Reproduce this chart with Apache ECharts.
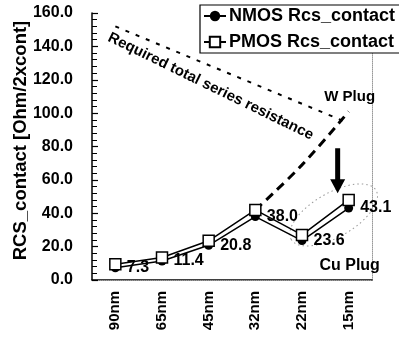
<!DOCTYPE html>
<html>
<head>
<meta charset="utf-8">
<script src="https://cdn.jsdelivr.net/npm/echarts@6/dist/echarts.min.js"></script>
<style>
html,body{margin:0;padding:0;background:#fff;}
#chart{width:399px;height:341px;}
</style>
</head>
<body>
<div id="chart"></div>
<script>
// ---- data ----
const categories = ['90nm', '65nm', '45nm', '32nm', '22nm', '15nm'];
const nmosValues = [7.3, 11.4, 20.8, 38.0, 23.6, 43.1];
const pmosValues = [9.5, 13.5, 23.5, 42.0, 27.0, 48.0];
const wPlugValues = [null, null, null, 42, 69, 101];
const requiredValues = [152, null, null, null, null, 94];
const yMin = 0, yMax = 160, yInterval = 20;

const FONT = '"Liberation Sans", Arial, sans-serif';
const chart = echarts.init(document.getElementById('chart'), null, {renderer: 'canvas'});

const option = {
  animation: false,
  backgroundColor: '#fff',
  grid: {left: 92, right: 27, top: 13, bottom: 61},
  legend: {
    orient: 'vertical',
    left: 200, top: 5,
    padding: [1, 12, 1, 3],
    itemGap: 6,
    itemWidth: 22, itemHeight: 13,
    backgroundColor: '#fff',
    borderColor: '#000', borderWidth: 1.2,
    z: 10,
    data: ['NMOS Rcs_contact', 'PMOS Rcs_contact'],
    textStyle: {fontFamily: FONT, fontWeight: 'bold', fontSize: 18, color: '#000', lineHeight: 20, padding: [0,0,0,-2]}
  },
  xAxis: [{
    type: 'category', data: categories, boundaryGap: true,
    axisLine: {lineStyle: {color: '#000', width: 1.5}},
    axisTick: {inside: true, length: 6, lineStyle: {color: '#000', width: 1.2}},
    axisLabel: {rotate: 90, margin: 11, fontFamily: FONT, fontWeight: 'bold', fontSize: 15, color: '#000'}
  }, {
    type: 'category', data: categories, position: 'top',
    axisLine: {lineStyle: {color: '#999', width: 1, type: 'dotted'}},
    axisTick: {show: false}, axisLabel: {show: false}
  }],
  yAxis: [{
    type: 'value', min: yMin, max: yMax, interval: yInterval,
    axisLine: {show: true, lineStyle: {color: '#000', width: 1.5}},
    axisTick: {show: true, inside: true, length: 6, lineStyle: {color: '#000', width: 1.2}},
    minorTick: {show: true, splitNumber: 5, length: 5, lineStyle: {color: '#000', width: 1}},
    splitLine: {show: false},
    axisLabel: {margin: 19, fontFamily: FONT, fontWeight: 'bold', fontSize: 16, color: '#000',
      formatter: v => v.toFixed(1)}
  }, {
    type: 'value', min: yMin, max: yMax, interval: yInterval, position: 'right',
    axisLine: {show: true, lineStyle: {color: '#999', width: 1, type: 'dotted'}},
    axisTick: {show: false}, axisLabel: {show: false}, splitLine: {show: false}
  }],
  series: [
    {
      name: 'Required', type: 'line', data: requiredValues, connectNulls: true,
      symbol: 'none', lineStyle: {color: '#000', width: 2, type: [4, 7]}, z: 1, silent: true
    },
    {
      name: 'W Plug', type: 'line', data: wPlugValues, smooth: 0.4,
      symbol: 'none', lineStyle: {color: '#000', width: 3, type: [9, 6]}, z: 1, silent: true
    },
    {
      name: 'NMOS Rcs_contact', type: 'line', data: nmosValues,
      symbol: 'circle', symbolSize: 9,
      itemStyle: {color: '#000'},
      lineStyle: {color: '#000', width: 1.5},
      label: {show: true, position: 'right', distance: 7, fontFamily: FONT, fontWeight: 'bold', fontSize: 16, color: '#000',
        formatter: p => p.value.toFixed(1)},
      z: 3
    },
    {
      name: 'PMOS Rcs_contact', type: 'line', data: pmosValues,
      symbol: 'rect', symbolSize: 11,
      itemStyle: {color: '#fff', borderColor: '#000', borderWidth: 1.5},
      lineStyle: {color: '#000', width: 1.5},
      z: 4
    }
  ]
};
chart.setOption(option);

function px(cat, val) { return chart.convertToPixel({gridIndex: 0}, [cat, val]); }

const pText = px('45nm', 116);
const pW = px('15nm', 110);
const pCu = px('15nm', 8.5);
const pArrTop = px('15nm', 79);
const pArrTip = px('15nm', 52);
const pEll = px('15nm', 39);
const pName = [21, (px('90nm', 160)[1] + px('90nm', 0)[1]) / 2 - 6];

const ax = pArrTop[0] - 11;
const graphic = [
  {type: 'text', x: pName[0], y: pName[1], rotation: Math.PI / 2, z: 20,
   style: {text: 'RCS_contact [Ohm/2xcont]', font: 'bold 18.5px ' + FONT, fill: '#000', align: 'center', verticalAlign: 'middle'}},
  {type: 'text', x: pText[0] + 2, y: pText[1], rotation: -26 * Math.PI / 180, z: 20,
   style: {text: 'Required total series resistance', font: 'bold 15px ' + FONT, fill: '#000', align: 'center', verticalAlign: 'middle'}},
  {type: 'text', x: pW[0] + 1, y: pW[1], z: 20,
   style: {text: 'W Plug', font: 'bold 15px ' + FONT, fill: '#000', align: 'center', verticalAlign: 'middle'}},
  {type: 'text', x: pCu[0] + 1, y: pCu[1], z: 20,
   style: {text: 'Cu Plug', font: 'bold 16px ' + FONT, fill: '#000', align: 'center', verticalAlign: 'middle'}},
  {type: 'polygon', z: 20,
   shape: {points: [[ax - 2.5, pArrTop[1]], [ax + 2.5, pArrTop[1]], [ax + 2.5, pArrTip[1] - 14], [ax + 7.5, pArrTip[1] - 14],
                    [ax, pArrTip[1]], [ax - 7.5, pArrTip[1] - 14], [ax - 2.5, pArrTip[1] - 14]]},
   style: {fill: '#000'}},
  {type: 'ellipse', z: 0, x: pEll[0] - 15, y: pEll[1], rotation: 30 * Math.PI / 180,
   shape: {cx: 0, cy: 0, rx: 49, ry: 22},
   style: {fill: 'none', stroke: '#999', lineWidth: 1, lineDash: [1.5, 3]}}
];
chart.setOption({graphic: graphic});
</script>
</body>
</html>
